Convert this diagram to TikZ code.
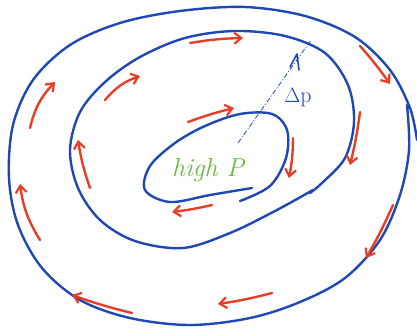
\documentclass[tikz,border=0pt]{standalone}
\usetikzlibrary{arrows.meta}
\definecolor{pblue}{RGB}{30,72,180}
\definecolor{pred}{RGB}{232,62,40}
\definecolor{pgreen}{RGB}{104,184,60}
\tikzset{
  ring/.style={draw=pblue, line width=2.4pt, line cap=round, line join=round},
  flow/.style={draw=pred, line width=2.4pt, line cap=round, -{Straight Barb[length=7pt,width=11pt,line width=2.2pt]}},
}
\begin{document}
\begin{tikzpicture}[x=1pt,y=-1pt]
\useasboundingbox (0,0) rectangle (417,329);
% outer ring
\draw[ring] plot[smooth, tension=0.55] coordinates {(407,105) (409,150) (400,195) (380,240) (345,278) (300,302) (250,318) (190,325) (130,318) (80,300) (42,268) (18,225) (9,178) (13,125) (33,80) (70,45) (120,23) (180,11) (245,7) (305,16) (355,37) (390,70) (410,108) (417,140)};
% middle ring
\draw[ring] plot[smooth, tension=0.55] coordinates {(313,190) (275,211) (230,233) (183,248) (135,241) (100,220) (78,188) (70,150) (80,112) (105,82) (140,57) (185,38) (235,31) (285,36) (325,53) (348,85) (354,122) (345,158) (322,183) (310,193)};
% inner ring
\draw[ring] plot[smooth, tension=0.55] coordinates {(252,188) (210,195) (170,202) (145,190) (150,166) (175,143) (205,126) (240,114) (272,114) (287,130) (286,158) (270,186) (240,201)};
% delta p marker
\draw[pblue, line width=0.8pt, dash pattern=on 5pt off 2pt on 1pt off 2pt] (238,143) -- (311,40);
\draw[pblue, line width=1.6pt, line cap=round, line join=round] (290,67) -- (297,54) -- (299,70);
\node[pblue, font=\fontsize{22}{22}\selectfont] (dp) at (298,98) {$\Delta$p};
% text
\node[pgreen, font=\fontsize{26}{26}\selectfont\itshape] (hp) at (208,170) {high P};
% flow arrows
\draw[flow] (190,43) to[bend left=4] (243,38);
\draw[flow] (105,100) to[bend left=15] (140,76);
\draw[flow] (30,128) to[bend left=15] (55,82);
\draw[flow] (90,188) to[bend left=5] (78,140);
\draw[flow] (40,240) to[bend left=12] (20,184);
\draw[flow] (132,313) to[bend left=3] (72,295);
\draw[flow] (272,293) to[bend left=3] (218,304);
\draw[flow] (393,205) to[bend left=3] (366,258);
\draw[flow] (360,46) to[bend left=3] (390,84);
\draw[flow] (360,112) to[bend left=3] (350,165);
\draw[flow] (293,138) to[bend left=5] (289,178);
\draw[flow] (188,122) to[bend left=3] (234,108);
\draw[flow] (212,205) to[bend left=3] (172,212);
\end{tikzpicture}
\end{document}
